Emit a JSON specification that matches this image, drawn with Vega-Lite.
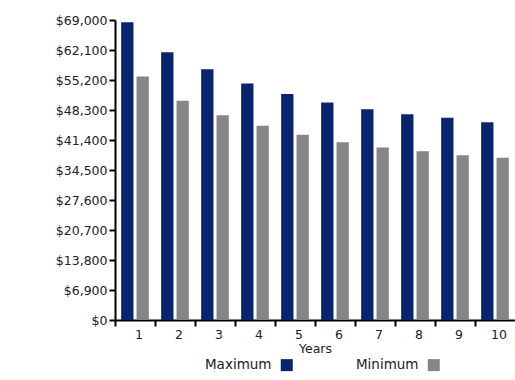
{
  "$schema": "https://vega.github.io/schema/vega-lite/v6.json",
  "width": 400,
  "height": 300,
  "autosize": {"type": "none"},
  "padding": {"left": 115, "top": 20, "right": 0, "bottom": 60},
  "background": "white",
  "config": {
    "view": {"stroke": null},
    "font": "DejaVu Sans",
    "axis": {
      "domainColor": "#000000",
      "domainWidth": 2,
      "tickColor": "#000000",
      "tickWidth": 2,
      "tickSize": 6,
      "labelFont": "DejaVu Sans",
      "labelFontSize": 12.5,
      "labelColor": "#222222",
      "titleFont": "DejaVu Sans",
      "titleFontSize": 12.5,
      "titleFontWeight": "normal",
      "titleColor": "#222222",
      "grid": false
    }
  },
  "data": {
    "values": [
      {"year": 1, "series": "Maximum", "value": 68500},
      {"year": 1, "series": "Minimum", "value": 56000},
      {"year": 2, "series": "Maximum", "value": 61600},
      {"year": 2, "series": "Minimum", "value": 50400},
      {"year": 3, "series": "Maximum", "value": 57700},
      {"year": 3, "series": "Minimum", "value": 47100},
      {"year": 4, "series": "Maximum", "value": 54400},
      {"year": 4, "series": "Minimum", "value": 44700},
      {"year": 5, "series": "Maximum", "value": 52000},
      {"year": 5, "series": "Minimum", "value": 42600},
      {"year": 6, "series": "Maximum", "value": 50000},
      {"year": 6, "series": "Minimum", "value": 40900},
      {"year": 7, "series": "Maximum", "value": 48500},
      {"year": 7, "series": "Minimum", "value": 39700},
      {"year": 8, "series": "Maximum", "value": 47300},
      {"year": 8, "series": "Minimum", "value": 38800},
      {"year": 9, "series": "Maximum", "value": 46500},
      {"year": 9, "series": "Minimum", "value": 37900},
      {"year": 10, "series": "Maximum", "value": 45500},
      {"year": 10, "series": "Minimum", "value": 37300}
    ]
  },
  "mark": {"type": "bar"},
  "encoding": {
    "x": {
      "field": "year",
      "type": "ordinal",
      "scale": {"paddingInner": 0, "paddingOuter": 0},
      "axis": {
        "title": "Years",
        "labelAngle": 0,
        "bandPosition": 0,
        "labelOffset": 4,
        "labelPadding": 2,
        "titlePadding": 2
      }
    },
    "xOffset": {
      "field": "series",
      "type": "nominal",
      "sort": ["Maximum", "Minimum"],
      "scale": {"paddingInner": 0.2, "paddingOuter": 0.4}
    },
    "y": {
      "field": "value",
      "type": "quantitative",
      "scale": {"domain": [0, 69000], "nice": false},
      "axis": {
        "title": null,
        "values": [0, 6900, 13800, 20700, 27600, 34500, 41400, 48300, 55200, 62100, 69000],
        "format": "$,.0f",
        "labelPadding": 2
      }
    },
    "color": {
      "field": "series",
      "type": "nominal",
      "scale": {"domain": ["Maximum", "Minimum"], "range": ["#0b2470", "#858687"]},
      "legend": {
        "title": null,
        "orient": "none",
        "direction": "horizontal",
        "legendX": 165,
        "legendY": 338,
        "symbolType": "square",
        "symbolSize": 144,
        "symbolStrokeWidth": 0,
        "symbolOpacity": 1,
        "labelAlign": "right",
        "labelOffset": -22,
        "labelFontSize": 13.5,
        "labelColor": "#222222",
        "columnPadding": 62
      }
    }
  }
}
